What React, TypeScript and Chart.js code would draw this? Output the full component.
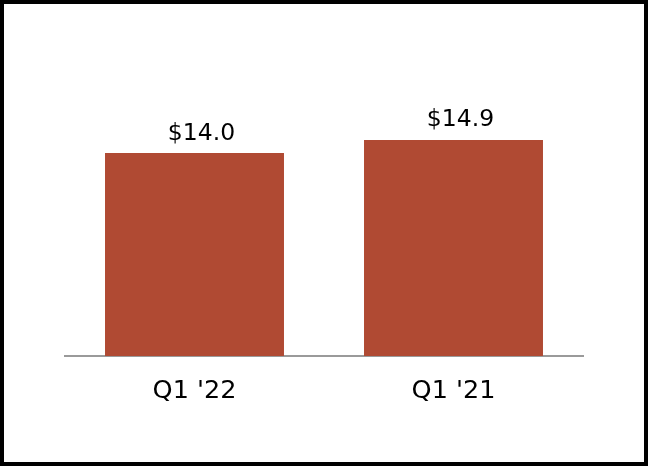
import React, { useEffect, useRef } from "react";
import { Chart, registerables } from "chart.js";

Chart.register(...registerables);

const categories = ["Q1 '22", "Q1 '21"];
const values = [14.0, 14.9];
const valueLabels = ["$14.0", "$14.9"];

const labelPlugin = {
  id: "barLabels",
  afterDatasetsDraw(chart: any) {
    const ctx = chart.ctx;
    const meta = chart.getDatasetMeta(0);
    ctx.save();
    ctx.font = "23.5px 'DejaVu Sans'";
    ctx.fillStyle = "#000";
    ctx.textAlign = "center";
    ctx.textBaseline = "alphabetic";
    meta.data.forEach((bar: any, i: number) => {
      ctx.fillText(valueLabels[i], bar.x + 7, bar.y - 13.5);
    });
    ctx.restore();
  },
};

export default function App() {
  const ref = useRef<HTMLCanvasElement>(null);
  useEffect(() => {
    const chart = new Chart(ref.current!, {
      type: "bar",
      data: {
        labels: categories,
        datasets: [
          {
            data: values,
            backgroundColor: "#B04A33",
            categoryPercentage: 1,
            barPercentage: 0.691,
          },
        ],
      },
      options: {
        animation: false,
        responsive: false,
        maintainAspectRatio: false,
        layout: { padding: { left: 65, right: 65, top: 66, bottom: 0 } },
        plugins: { legend: { display: false }, tooltip: { enabled: false } },
        scales: {
          x: {
            grid: { display: false, drawTicks: false },
            border: { display: true, color: "#9a9a9a", width: 2 },
            ticks: {
              color: "#000",
              font: { family: "'DejaVu Sans'", size: 25.5 },
              padding: 20,
            },
            afterFit: (axis: any) => {
              axis.height = 110;
            },
          },
          y: {
            display: false,
            min: 0,
            max: 20,
          },
        },
      },
      plugins: [labelPlugin],
    });
    return () => chart.destroy();
  }, []);
  return (
    <div style={{ position: "fixed", left: 0, top: 0, width: 648, height: 466, background: "#fff" }}>
      <canvas ref={ref} width={648} height={466} style={{ display: "block" }} />
      <div
        style={{
          position: "absolute",
          left: 0,
          top: 0,
          width: 648,
          height: 466,
          boxSizing: "border-box",
          border: "4px solid #000",
          pointerEvents: "none",
        }}
      />
    </div>
  );
}
